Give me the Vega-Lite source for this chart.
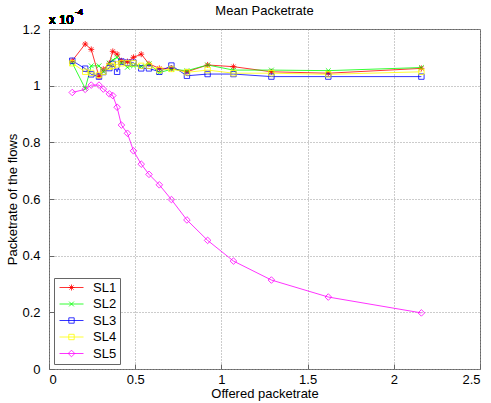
{
  "$schema": "https://vega.github.io/schema/vega-lite/v6.json",
  "autosize": {"type": "none"},
  "width": 431,
  "height": 340,
  "padding": {"left": 49, "top": 29, "right": 11, "bottom": 34},
  "background": "white",
  "title": {"text": "Mean Packetrate", "fontSize": 13, "fontWeight": "normal", "font": "Liberation Sans", "color": "#000", "offset": -10},
  "config": {
    "font": "Liberation Sans",
    "view": {"stroke": "#666", "strokeWidth": 1},
    "axis": {
      "domain": false,
      "grid": true,
      "gridColor": "#999",
      "gridDash": [1, 2],
      "gridWidth": 1,
      "tickColor": "#666",
      "labelFontSize": 13,
      "labelColor": "#000",
      "titleFontSize": 13,
      "titleFontWeight": "normal",
      "titleColor": "#000"
    }
  },
  "data": {
    "values": [
      {"series": "SL1", "x": 0.135, "y": 1.088}, {"series": "SL1", "x": 0.21, "y": 1.147}, {"series": "SL1", "x": 0.245, "y": 1.128},
      {"series": "SL1", "x": 0.29, "y": 1.032}, {"series": "SL1", "x": 0.315, "y": 1.058}, {"series": "SL1", "x": 0.35, "y": 1.079},
      {"series": "SL1", "x": 0.37, "y": 1.121}, {"series": "SL1", "x": 0.395, "y": 1.111}, {"series": "SL1", "x": 0.42, "y": 1.088},
      {"series": "SL1", "x": 0.455, "y": 1.085}, {"series": "SL1", "x": 0.49, "y": 1.1}, {"series": "SL1", "x": 0.535, "y": 1.111},
      {"series": "SL1", "x": 0.58, "y": 1.077}, {"series": "SL1", "x": 0.64, "y": 1.061}, {"series": "SL1", "x": 0.71, "y": 1.061},
      {"series": "SL1", "x": 0.8, "y": 1.049}, {"series": "SL1", "x": 0.92, "y": 1.073}, {"series": "SL1", "x": 1.07, "y": 1.067},
      {"series": "SL1", "x": 1.29, "y": 1.049}, {"series": "SL1", "x": 1.62, "y": 1.044}, {"series": "SL1", "x": 2.16, "y": 1.061},

      {"series": "SL2", "x": 0.135, "y": 1.08}, {"series": "SL2", "x": 0.21, "y": 0.99}, {"series": "SL2", "x": 0.245, "y": 1.07},
      {"series": "SL2", "x": 0.29, "y": 1.07}, {"series": "SL2", "x": 0.315, "y": 1.05}, {"series": "SL2", "x": 0.35, "y": 1.08},
      {"series": "SL2", "x": 0.37, "y": 1.09}, {"series": "SL2", "x": 0.395, "y": 1.1}, {"series": "SL2", "x": 0.42, "y": 1.08},
      {"series": "SL2", "x": 0.455, "y": 1.065}, {"series": "SL2", "x": 0.49, "y": 1.07}, {"series": "SL2", "x": 0.535, "y": 1.068},
      {"series": "SL2", "x": 0.58, "y": 1.077}, {"series": "SL2", "x": 0.64, "y": 1.046}, {"series": "SL2", "x": 0.71, "y": 1.058},
      {"series": "SL2", "x": 0.8, "y": 1.053}, {"series": "SL2", "x": 0.92, "y": 1.073}, {"series": "SL2", "x": 1.07, "y": 1.055},
      {"series": "SL2", "x": 1.29, "y": 1.055}, {"series": "SL2", "x": 1.62, "y": 1.053}, {"series": "SL2", "x": 2.16, "y": 1.064},

      {"series": "SL3", "x": 0.135, "y": 1.088}, {"series": "SL3", "x": 0.21, "y": 1.06}, {"series": "SL3", "x": 0.245, "y": 1.04},
      {"series": "SL3", "x": 0.29, "y": 1.032}, {"series": "SL3", "x": 0.315, "y": 1.048}, {"series": "SL3", "x": 0.35, "y": 1.062},
      {"series": "SL3", "x": 0.37, "y": 1.077}, {"series": "SL3", "x": 0.395, "y": 1.049}, {"series": "SL3", "x": 0.42, "y": 1.085},
      {"series": "SL3", "x": 0.455, "y": 1.081}, {"series": "SL3", "x": 0.49, "y": 1.081}, {"series": "SL3", "x": 0.535, "y": 1.061},
      {"series": "SL3", "x": 0.58, "y": 1.061}, {"series": "SL3", "x": 0.64, "y": 1.049}, {"series": "SL3", "x": 0.71, "y": 1.071},
      {"series": "SL3", "x": 0.8, "y": 1.035}, {"series": "SL3", "x": 0.92, "y": 1.041}, {"series": "SL3", "x": 1.07, "y": 1.041},
      {"series": "SL3", "x": 1.29, "y": 1.032}, {"series": "SL3", "x": 1.62, "y": 1.032}, {"series": "SL3", "x": 2.16, "y": 1.032},

      {"series": "SL4", "x": 0.135, "y": 1.079}, {"series": "SL4", "x": 0.21, "y": 1.049}, {"series": "SL4", "x": 0.245, "y": 1.045},
      {"series": "SL4", "x": 0.29, "y": 1.038}, {"series": "SL4", "x": 0.315, "y": 1.049}, {"series": "SL4", "x": 0.35, "y": 1.067},
      {"series": "SL4", "x": 0.37, "y": 1.07}, {"series": "SL4", "x": 0.395, "y": 1.075}, {"series": "SL4", "x": 0.42, "y": 1.079},
      {"series": "SL4", "x": 0.455, "y": 1.079}, {"series": "SL4", "x": 0.49, "y": 1.079}, {"series": "SL4", "x": 0.535, "y": 1.07},
      {"series": "SL4", "x": 0.58, "y": 1.07}, {"series": "SL4", "x": 0.64, "y": 1.055}, {"series": "SL4", "x": 0.71, "y": 1.059},
      {"series": "SL4", "x": 0.8, "y": 1.047}, {"series": "SL4", "x": 0.92, "y": 1.055}, {"series": "SL4", "x": 1.07, "y": 1.044},
      {"series": "SL4", "x": 1.29, "y": 1.044}, {"series": "SL4", "x": 1.62, "y": 1.04}, {"series": "SL4", "x": 2.16, "y": 1.049},

      {"series": "SL5", "x": 0.135, "y": 0.976}, {"series": "SL5", "x": 0.21, "y": 0.987}, {"series": "SL5", "x": 0.245, "y": 1.002},
      {"series": "SL5", "x": 0.29, "y": 1.002}, {"series": "SL5", "x": 0.315, "y": 0.988}, {"series": "SL5", "x": 0.35, "y": 0.971},
      {"series": "SL5", "x": 0.37, "y": 0.965}, {"series": "SL5", "x": 0.395, "y": 0.924}, {"series": "SL5", "x": 0.42, "y": 0.861},
      {"series": "SL5", "x": 0.455, "y": 0.832}, {"series": "SL5", "x": 0.49, "y": 0.77}, {"series": "SL5", "x": 0.535, "y": 0.723},
      {"series": "SL5", "x": 0.58, "y": 0.687}, {"series": "SL5", "x": 0.64, "y": 0.65}, {"series": "SL5", "x": 0.71, "y": 0.598},
      {"series": "SL5", "x": 0.8, "y": 0.526}, {"series": "SL5", "x": 0.92, "y": 0.454}, {"series": "SL5", "x": 1.07, "y": 0.381},
      {"series": "SL5", "x": 1.29, "y": 0.314}, {"series": "SL5", "x": 1.62, "y": 0.254}, {"series": "SL5", "x": 2.16, "y": 0.198}
    ]
  },
  "encoding": {
    "x": {
      "field": "x", "type": "quantitative",
      "scale": {"domain": [0, 2.5], "nice": false, "zero": false},
      "axis": {"title": "Offered packetrate", "values": [0, 0.5, 1, 1.5, 2, 2.5], "format": "~g", "tickSize": -5, "labelPadding": 9, "titlePadding": 1}
    },
    "y": {
      "field": "y", "type": "quantitative",
      "scale": {"domain": [0, 1.2], "nice": false},
      "axis": {"title": "Packetrate of the flows", "values": [0, 0.2, 0.4, 0.6, 0.8, 1, 1.2], "format": "~g", "tickSize": -5, "labelPadding": 14, "titlePadding": 2}
    }
  },
  "layer": [
    {
      "mark": {"type": "line", "strokeWidth": 0.8},
      "encoding": {
        "color": {
          "field": "series", "type": "nominal",
          "scale": {"domain": ["SL1", "SL2", "SL3", "SL4", "SL5"], "range": ["#ff0000", "#00ff00", "#0000ff", "#ffff00", "#ff00ff"]},
          "legend": {
            "title": null,
            "orient": "bottom-left",
            "offset": 5,
            "strokeColor": "#666",
            "fillColor": "white",
            "padding": 3,
            "rowPadding": 2.5,
            "labelFontSize": 13,
            "labelColor": "#000",
            "labelOffset": 15,
            "symbolOffset": 8,
            "symbolSize": 144,
            "symbolStrokeWidth": 0.8,
            "encode": {
              "symbols": {
                "update": {
                  "shape": {"signal": "datum.value === 'SL1' ? 'M-2,0L2,0M-0.5,0L0.5,0M0,-0.5L0,0.5M-0.35,-0.35L0.35,0.35M-0.35,0.35L0.35,-0.35' : datum.value === 'SL2' ? 'M-2,0L2,0M-0.4,-0.4L0.4,0.4M-0.4,0.4L0.4,-0.4' : datum.value === 'SL5' ? 'M-2,0L2,0M0,-0.55L0.55,0L0,0.55L-0.55,0Z' : 'M-2,0L2,0M-0.45,-0.45L0.45,-0.45L0.45,0.45L-0.45,0.45Z'"},
                  "fill": {"value": "transparent"}
                }
              }
            }
          }
        }
      }
    },
    {
      "transform": [{"filter": "datum.series === 'SL1'"}],
      "mark": {"type": "point", "filled": false, "strokeWidth": 0.8, "size": 36, "opacity": 1, "color": "#ff0000",
               "shape": "M-1,0L1,0M0,-1L0,1M-0.7,-0.7L0.7,0.7M-0.7,0.7L0.7,-0.7"}
    },
    {
      "transform": [{"filter": "datum.series === 'SL2'"}],
      "mark": {"type": "point", "filled": false, "strokeWidth": 0.8, "size": 36, "opacity": 1, "color": "#00ff00",
               "shape": "M-0.8,-0.8L0.8,0.8M-0.8,0.8L0.8,-0.8"}
    },
    {
      "transform": [{"filter": "datum.series === 'SL3'"}],
      "mark": {"type": "point", "filled": false, "strokeWidth": 0.8, "size": 36, "opacity": 1, "color": "#0000ff",
               "shape": "M-0.9,-0.9L0.9,-0.9L0.9,0.9L-0.9,0.9Z"}
    },
    {
      "transform": [{"filter": "datum.series === 'SL4'"}],
      "mark": {"type": "point", "filled": false, "strokeWidth": 0.8, "size": 36, "opacity": 1, "color": "#ffff00",
               "shape": "M-0.9,-0.9L0.9,-0.9L0.9,0.9L-0.9,0.9Z"}
    },
    {
      "transform": [{"filter": "datum.series === 'SL5'"}],
      "mark": {"type": "point", "filled": false, "strokeWidth": 0.8, "size": 36, "opacity": 1, "color": "#ff00ff",
               "shape": "M0,-1.1L1.1,0L0,1.1L-1.1,0Z"}
    },
    {
      "mark": {"type": "text", "align": "left", "baseline": "alphabetic", "fontSize": 13, "dx": 0, "dy": -5, "color": "#000"},
      "encoding": {"x": {"datum": 0}, "y": {"datum": 1.2}, "text": {"value": "x 10"}}
    },
    {
      "mark": {"type": "text", "align": "left", "baseline": "alphabetic", "fontSize": 9, "dx": 26, "dy": -14, "color": "#000"},
      "encoding": {"x": {"datum": 0}, "y": {"datum": 1.2}, "text": {"value": "-4"}}
    }
  ]
}
